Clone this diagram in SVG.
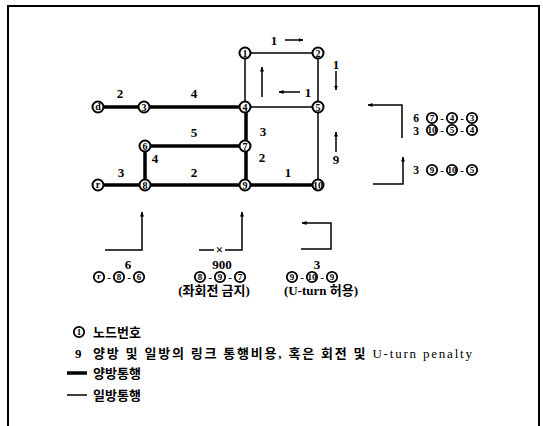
<svg xmlns="http://www.w3.org/2000/svg" width="543" height="426" viewBox="0 0 543 426">
<defs>
<marker id="ah" viewBox="0 0 10 10" refX="9" refY="5" markerWidth="5" markerHeight="5" orient="auto-start-reverse" markerUnits="userSpaceOnUse">
<path d="M0,1 L10,5 L0,9 z" fill="#000"/>
</marker>
<style>
.thick{stroke:#000;stroke-width:3.5;fill:none}
.thin{stroke:#000;stroke-width:1.5;fill:none}
.ar{stroke:#000;stroke-width:1.5;fill:none;marker-end:url(#ah)}
.num{font-family:"Liberation Serif",serif;font-weight:bold;font-size:13px;text-anchor:middle;dominant-baseline:central}
.sn{font-family:"Liberation Serif",serif;font-weight:bold;font-size:11.5px;text-anchor:middle;dominant-baseline:central}
.nc{fill:#fff;stroke:#000;stroke-width:2}
.nt{font-family:"Liberation Serif",serif;font-weight:bold;font-size:10px;text-anchor:middle;dominant-baseline:central}
.cc{fill:#fff;stroke:#000;stroke-width:1.8}
.ct{font-family:"Liberation Serif",serif;font-weight:bold;font-size:9px;text-anchor:middle;dominant-baseline:central}
.hy{font-family:"Liberation Serif",serif;font-weight:bold;font-size:11px;text-anchor:middle;dominant-baseline:central}
.kr{font-family:"Liberation Serif","Noto Sans CJK KR",serif;font-weight:bold;font-size:13px;dominant-baseline:central}
</style>
</defs>
<rect width="543" height="426" fill="#fff"/>
<polyline points="8,426 8,6 539,6 539,426" fill="none" stroke="#000" stroke-width="2"/>

<g id="connectors">
<line class="thin" x1="245" y1="53" x2="318" y2="53"/>
<line class="thin" x1="245" y1="53" x2="245" y2="107"/>
<line class="thin" x1="318" y1="53" x2="318" y2="107"/>
<line class="thin" x1="245" y1="107" x2="318" y2="107"/>
<line class="thin" x1="318" y1="107" x2="318" y2="185"/>
<line class="thick" x1="98" y1="107" x2="144" y2="107"/>
<line class="thick" x1="144" y1="107" x2="245" y2="107"/>
<line class="thick" x1="246" y1="107" x2="246" y2="146"/>
<line class="thick" x1="246" y1="146" x2="246" y2="185"/>
<line class="thick" x1="145" y1="146" x2="245" y2="146"/>
<line class="thick" x1="145" y1="146" x2="145" y2="185"/>
<line class="thick" x1="98" y1="185" x2="145" y2="185"/>
<line class="thick" x1="145" y1="185" x2="245" y2="185"/>
<line class="thick" x1="245" y1="185" x2="318" y2="185"/>
</g>

<g id="link-labels">
<text class="num" x="274" y="40">1</text>
<line class="ar" x1="285" y1="40" x2="303" y2="40"/>
<text class="num" x="336" y="64">1</text>
<line class="ar" x1="336" y1="71" x2="336" y2="90"/>
<line class="ar" x1="262" y1="97" x2="262" y2="67"/>
<line class="ar" x1="300" y1="92" x2="279" y2="92"/>
<text class="num" x="308" y="92">1</text>
<text class="num" x="120" y="93">2</text>
<text class="num" x="194" y="93">4</text>
<text class="num" x="194" y="132">5</text>
<text class="num" x="263" y="131">3</text>
<text class="num" x="155" y="158">4</text>
<text class="num" x="262" y="157">2</text>
<line class="ar" x1="336" y1="152" x2="336" y2="132"/>
<text class="num" x="336" y="159">9</text>
<text class="num" x="121" y="172">3</text>
<text class="num" x="194" y="172">2</text>
<text class="num" x="288" y="172">1</text>
</g>

<g id="node-1"><circle class="nc" cx="245" cy="53" r="5.5"/><text class="nt" x="245" y="53">1</text></g>
<g id="node-2"><circle class="nc" cx="318" cy="53" r="5.5"/><text class="nt" x="318" y="53">2</text></g>
<g id="node-d"><circle class="nc" cx="98" cy="107" r="5.5"/><text class="nt" x="98" y="106">d</text></g>
<g id="node-3"><circle class="nc" cx="144" cy="107" r="5.5"/><text class="nt" x="144" y="107">3</text></g>
<g id="node-4"><circle class="nc" cx="245" cy="107" r="5.5"/><text class="nt" x="245" y="107">4</text></g>
<g id="node-5"><circle class="nc" cx="318" cy="107" r="5.5"/><text class="nt" x="318" y="107">5</text></g>
<g id="node-6"><circle class="nc" cx="145" cy="146" r="5.5"/><text class="nt" x="145" y="146">6</text></g>
<g id="node-7"><circle class="nc" cx="245" cy="146" r="5.5"/><text class="nt" x="245" y="146">7</text></g>
<g id="node-r"><circle class="nc" cx="98" cy="185" r="5.5"/><text class="nt" x="98" y="184">r</text></g>
<g id="node-8"><circle class="nc" cx="145" cy="185" r="5.5"/><text class="nt" x="145" y="185">8</text></g>
<g id="node-9"><circle class="nc" cx="245" cy="185" r="5.5"/><text class="nt" x="245" y="185">9</text></g>
<g id="node-10"><circle class="nc" cx="318" cy="185" r="5.5"/><text class="nt" x="318" y="185" font-size="8">10</text></g>

<g id="turn-right">
<polyline class="ar" points="402,138 402,105 368,105"/>
<text class="sn" x="416" y="117.5">6</text>
<circle class="cc" cx="432" cy="118" r="5.2"/><text class="ct" x="432" y="118">7</text>
<text class="hy" x="442" y="118">-</text>
<circle class="cc" cx="452" cy="118" r="5.2"/><text class="ct" x="452" y="118">4</text>
<text class="hy" x="462" y="118">-</text>
<circle class="cc" cx="472" cy="118" r="5.2"/><text class="ct" x="472" y="118">3</text>
<text class="sn" x="416" y="130.5">3</text>
<circle class="cc" cx="432" cy="130" r="5.2"/><text class="ct" x="432" y="130" font-size="7.5">10</text>
<text class="hy" x="442" y="130">-</text>
<circle class="cc" cx="452" cy="130" r="5.2"/><text class="ct" x="452" y="130">5</text>
<text class="hy" x="462" y="130">-</text>
<circle class="cc" cx="472" cy="130" r="5.2"/><text class="ct" x="472" y="130">4</text>
<polyline class="ar" points="373,184 403,184 403,157"/>
<text class="sn" x="416" y="170">3</text>
<circle class="cc" cx="432" cy="170" r="5.2"/><text class="ct" x="432" y="170">9</text>
<text class="hy" x="442" y="170">-</text>
<circle class="cc" cx="452" cy="170" r="5.2"/><text class="ct" x="452" y="170" font-size="7.5">10</text>
<text class="hy" x="462" y="170">-</text>
<circle class="cc" cx="472" cy="170" r="5.2"/><text class="ct" x="472" y="170">5</text>
</g>

<g id="turn-1">
<polyline class="ar" points="105,250 142,250 142,212"/>
<text class="num" x="128" y="264">6</text>
<circle class="cc" cx="99" cy="277" r="5.2"/><text class="ct" x="99" y="276">r</text>
<text class="hy" x="109" y="277">-</text>
<circle class="cc" cx="119" cy="277" r="5.2"/><text class="ct" x="119" y="277">8</text>
<text class="hy" x="129" y="277">-</text>
<circle class="cc" cx="139" cy="277" r="5.2"/><text class="ct" x="139" y="277">6</text>
</g>
<g id="turn-2">
<line class="thin" x1="199" y1="250" x2="214" y2="250"/>
<polyline class="ar" points="225,250 242,250 242,212"/>
<text class="num" x="219.5" y="249.5" font-size="11">×</text>
<text class="num" x="222" y="264">900</text>
<circle class="cc" cx="200" cy="277" r="5.2"/><text class="ct" x="200" y="277">8</text>
<text class="hy" x="210" y="277">-</text>
<circle class="cc" cx="220" cy="277" r="5.2"/><text class="ct" x="220" y="277">9</text>
<text class="hy" x="230" y="277">-</text>
<circle class="cc" cx="240" cy="277" r="5.2"/><text class="ct" x="240" y="277">7</text>
<text class="kr" x="214" y="290" text-anchor="middle">(좌회전 금지)</text>
</g>
<g id="turn-3">
<polyline class="ar" points="301,249 331,249 331,223 302,223"/>
<text class="num" x="317" y="264">3</text>
<circle class="cc" cx="292" cy="277" r="5.2"/><text class="ct" x="292" y="277">9</text>
<text class="hy" x="302" y="277">-</text>
<circle class="cc" cx="312" cy="277" r="5.2"/><text class="ct" x="312" y="277" font-size="7.5">10</text>
<text class="hy" x="322" y="277">-</text>
<circle class="cc" cx="332" cy="277" r="5.2"/><text class="ct" x="332" y="277">9</text>
<text class="kr" x="321" y="290" text-anchor="middle">(U-turn 허용)</text>
</g>

<g id="legend">
<circle class="cc" cx="79" cy="332" r="5.2"/><text class="ct" x="79" y="332">1</text>
<text class="kr" x="93" y="332">노드번호</text>
<text class="kr" x="75" y="353">9</text>
<text class="kr" x="93" y="353" textLength="379" lengthAdjust="spacing">양방 및 일방의 링크 통행비용, 혹은 회전 및 <tspan font-weight="normal">U-turn penalty</tspan></text>
<line class="thick" x1="67" y1="373" x2="87" y2="373"/>
<text class="kr" x="93" y="373">양방통행</text>
<line class="thin" x1="67" y1="395" x2="87" y2="395"/>
<text class="kr" x="93" y="395">일방통행</text>
</g>
</svg>
